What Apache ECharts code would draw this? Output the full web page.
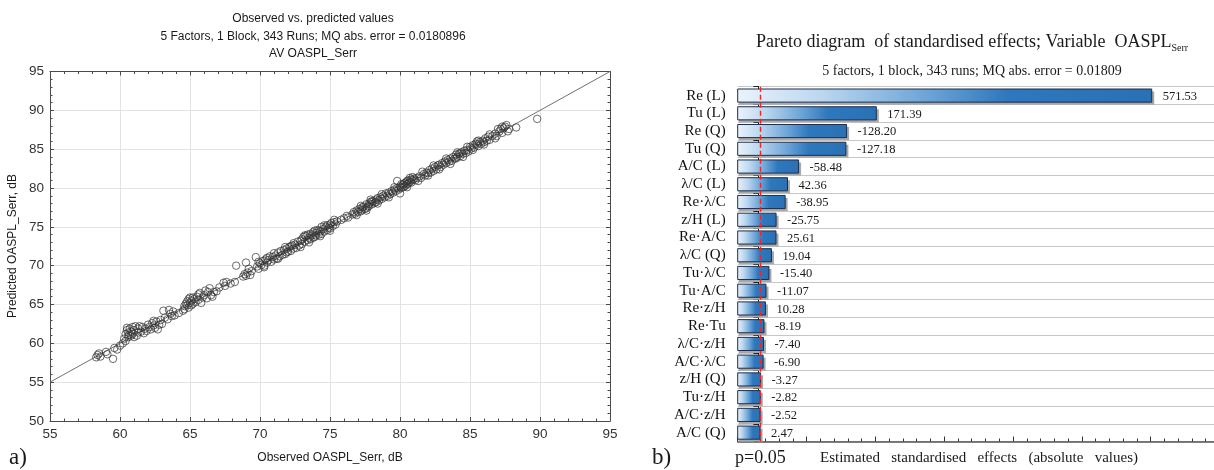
<!DOCTYPE html>
<html><head><meta charset="utf-8">
<script src="https://cdn.jsdelivr.net/npm/echarts@6/dist/echarts.min.js"></script>
<style>html,body{margin:0;padding:0;background:#fff}#c{width:1214px;height:470px}</style>
</head><body><div id="c"></div>
<script>
// ---------- Panel a) observed vs predicted ----------
const scatterPoints = [
[58.3,58.2],[58.4,58.5],[58.5,58.7],[58.6,58.3],[59.0,58.9],[59.1,58.6],[59.5,58.0],[59.6,59.4],[59.8,59.2],[60.0,59.7],
[60.2,60.0],[60.3,60.6],[60.4,60.3],[60.4,61.2],[60.5,61.7],[60.5,62.0],[60.6,61.4],[60.6,60.8],[60.7,61.9],[60.8,61.5],[60.8,61.0],[60.9,62.1],[60.9,61.2],[61.0,61.7],[61.1,62.2],[61.2,61.0],[61.3,61.9],[61.3,61.4],[61.4,62.2],[61.5,61.5],[61.6,62.1],
[61.8,61.9],[61.9,61.6],[62.0,62.4],[62.1,62.1],[62.2,61.8],[62.3,62.6],[62.4,62.3],[62.5,62.0],[62.6,62.8],[62.7,61.8],[62.8,62.4],[62.9,63.0],[63.0,62.5],
[63.1,64.2],[63.2,63.3],[63.4,63.1],[63.5,64.3],[63.6,63.8],[63.7,63.5],[63.8,64.1],[64.2,63.9],
[64.6,64.8],[64.6,64.4],[64.7,65.1],[64.8,65.4],[64.8,64.9],[64.9,65.7],[64.9,64.6],[65.0,65.2],[65.0,65.9],[65.1,64.9],[65.1,65.5],[65.2,65.1],[65.3,65.7],[65.4,65.3],[65.5,66.0],[65.6,65.6],[65.8,65.2],[65.9,65.9],[65.7,66.5],
[66.0,66.2],[66.2,65.8],[66.3,66.6],[66.4,67.1],[66.5,66.2],[66.7,66.6],[66.9,66.7],[67.1,67.2],
[67.4,67.8],[67.5,67.4],[67.6,67.9],[67.9,67.7],[68.2,67.9],[68.3,70.0],
[68.8,68.6],[68.9,68.9],[69.0,70.4],[69.0,68.7],[69.1,69.1],[69.3,68.8],[69.4,69.3],
[69.7,71.1],[69.8,69.9],[69.9,69.6],[70.0,70.3],[70.1,70.1],[70.2,70.6],[70.3,70.0],[70.4,70.8],[70.5,70.4],[70.5,71.0],[70.6,70.7],[70.7,71.2],[70.8,70.5],[70.9,71.1],[71.0,70.8],
[71.1,71.3],[71.2,70.9],[71.3,71.7],[71.4,71.2],[71.5,71.9],[71.6,71.4],[71.7,72.0],[71.8,71.5],[71.9,72.2],[72.0,71.8],[72.1,72.4],[72.2,71.9],[72.3,72.6],[72.4,72.2],[72.5,72.7],[72.6,72.3],[72.7,73.1],[72.8,72.6],[72.9,73.2],[73.0,72.8],[72.2,72.5],[71.9,71.7],
[73.0,73.4],[73.1,73.7],[73.2,73.1],[73.3,73.8],[73.4,73.3],[73.4,74.0],[73.5,73.6],[73.6,74.1],[73.6,73.4],[73.7,73.9],[73.8,74.3],[73.9,73.7],[74.0,74.2],[74.0,73.9],[74.1,74.6],[74.2,74.0],[74.3,74.4],[74.4,75.0],[74.4,74.1],[74.5,74.7],[74.6,74.4],[74.7,75.0],[74.8,74.6],[74.8,75.2],[74.9,74.9],[75.0,75.3],[75.0,74.8],[75.1,75.5],[75.2,75.1],[75.3,75.6],[75.4,75.3],[75.5,75.7],[73.8,73.6],[74.2,74.5],
[75.8,75.9],[76.0,76.1],[76.2,76.4],[76.3,76.2],
[76.6,76.6],[76.7,76.9],[76.8,76.7],[76.9,77.1],[77.0,76.9],[77.1,77.3],[77.2,77.0],[77.3,77.5],[77.3,77.2],[77.4,77.6],[77.5,77.3],[77.6,77.9],[77.7,77.6],[77.8,78.0],[77.8,77.7],[77.9,78.2],[78.0,77.9],[78.1,78.3],[78.2,78.1],[78.3,78.5],[78.3,78.2],[78.4,78.7],[78.5,78.4],[78.6,78.8],[78.7,78.6],[78.8,79.0],[78.9,78.8],[79.0,79.3],[77.6,77.4],[78.0,78.3],
[79.1,79.0],[79.2,79.4],[79.3,79.2],[79.4,79.6],[79.5,79.4],[79.6,79.8],[79.7,79.6],[79.8,80.9],[79.8,80.0],[79.9,79.8],[80.0,79.3],[80.0,80.2],[80.1,80.0],[80.2,80.4],[80.3,80.2],[80.3,80.6],[80.4,80.3],[80.4,80.7],[80.5,80.5],[80.5,80.9],[80.6,80.6],[80.6,81.0],[80.7,80.8],[80.8,81.1],[80.8,80.7],[80.9,81.0],[81.0,81.2],[80.2,80.1],[80.7,81.3],
[81.1,81.0],[81.2,81.3],[81.4,81.5],[81.5,81.3],[81.7,81.8],[81.8,81.6],[81.9,82.0],[82.0,81.9],[82.1,82.3],[82.2,82.0],[82.3,82.5],[82.4,82.2],[82.5,82.7],[82.6,82.4],[82.7,82.9],[82.8,83.0],[82.9,82.7],
[83.0,83.2],[83.1,83.0],[83.2,83.4],[83.3,83.2],[83.4,83.6],[83.5,83.4],[83.6,83.8],[83.7,83.5],[83.8,84.0],[83.9,83.8],[84.0,84.3],[84.1,84.0],[84.2,84.4],[84.3,84.1],[84.4,84.6],[84.5,84.4],[84.6,84.8],[84.7,84.5],[84.8,84.9],[84.9,84.7],[84.3,84.5],[84.0,83.8],
[85.0,85.3],[85.1,85.1],[85.2,85.5],[85.3,85.2],[85.4,85.7],[85.5,85.6],[85.6,85.4],[85.7,85.9],[85.8,85.7],[85.9,86.1],[86.0,85.9],[86.1,86.4],[86.2,86.1],[86.3,86.6],[86.4,86.2],[85.5,86.0],
[86.6,86.7],[86.8,87.0],[86.9,86.7],[87.1,87.3],[87.2,87.6],[87.3,87.1],[87.4,87.7],[87.5,87.9],[87.6,88.1],[87.8,87.6],
[88.3,87.8],[89.8,88.9],
[60.6,61.0],[61.0,60.8],[61.7,61.3],[62.4,62.9],[63.9,63.6],[64.5,64.2],[65.2,65.9],[65.6,66.3],[66.1,66.8],[66.6,66.0],
[69.2,69.6],[69.9,70.5],[70.3,69.8],[71.0,71.6],[71.3,70.9],[71.8,72.4],[72.4,72.9],[72.9,72.4],[73.2,73.9],[73.5,73.0],
[73.9,74.5],[74.3,73.8],[74.6,75.2],[75.0,74.5],[75.3,75.9],[76.9,76.5],[77.2,77.7],[77.6,77.1],[77.9,78.5],[78.4,78.0],
[78.7,79.2],[79.2,78.8],[79.6,80.1],[80.1,80.5],[80.5,80.1],[80.9,81.4],[81.3,80.9],[81.6,82.1],[82.0,81.6],[82.4,82.9],
[82.8,82.4],[83.3,83.8],[83.6,83.1],[84.1,84.6],[84.5,84.0],[84.8,85.3],[85.2,84.9],[85.6,86.1],[86.0,85.6],[86.4,86.9],
[86.8,86.4],[87.0,87.6],[87.3,87.9],[87.7,87.3]
];
const fitLine = [[55,55],[95,95]];
const leftTitles = ['Observed vs. predicted values','5 Factors, 1 Block, 343 Runs; MQ abs. error = 0.0180896','AV OASPL_Serr'];

// ---------- Panel b) Pareto ----------
const effectLabels = ['Re (L)','Tu (L)','Re (Q)','Tu (Q)','A/C (L)','λ/C (L)','Re·λ/C','z/H (L)','Re·A/C','λ/C (Q)','Tu·λ/C','Tu·A/C','Re·z/H','Re·Tu','λ/C·z/H','A/C·λ/C','z/H (Q)','Tu·z/H','A/C·z/H','A/C (Q)'];
const effectValues = [571.53,171.39,-128.20,-127.18,-58.48,42.36,-38.95,-25.75,25.61,19.04,-15.40,-11.07,10.28,-8.19,-7.40,-6.90,-3.27,-2.82,-2.52,2.47];
const criticalT = 1.97;
const effectMin = -30, effectMax = 662;
const effectMajorTicks = [-30,70,170,270,370,470,570];
const effectMinorTicks = [-10,10,30,50,90,110,130,150,190,210,230,250,290,310,330,350,390,410,430,450,490,510,530,550,590,610,630,650];

const SANS = '"Liberation Sans", Arial, sans-serif';
const SERIF = '"Liberation Serif", "Times New Roman", serif';

const chart = echarts.init(document.getElementById('c'), null, {renderer:'canvas'});

function txt(x, y, text, size, family, align, extra) {
  return Object.assign({
    type:'text', x:x, y:y, silent:true,
    style:{text:text, fontSize:size, fontFamily:family, fill:'#1a1a1a',
      align:align, textAlign:align, verticalAlign:'middle', textVerticalAlign:'middle'}
  }, extra || {});
}

const frameColor = '#4a4a4a';
const leftX = (pos, labels) => ({
  gridIndex:0, type:'value', min:55, max:95, interval:5, position:pos,
  axisLine:{show:true, onZero:false, lineStyle:{color:frameColor, width:1}},
  axisTick:{show:true, inside:true, length:4, lineStyle:{color:frameColor}},
  minorTick:{show:true, splitNumber:5, length:2.5, lineStyle:{color:frameColor}},
  axisLabel:{show:labels, fontFamily:SANS, fontSize:13.5, color:'#333', margin:6},
  splitLine:{show:labels, lineStyle:{color:'#e3e3e3'}}
});
const leftY = (pos, labels) => ({
  gridIndex:0, type:'value', min:50, max:95, interval:5, position:pos,
  axisLine:{show:true, onZero:false, lineStyle:{color:frameColor, width:1}},
  axisTick:{show:true, inside:true, length:4, lineStyle:{color:frameColor}},
  minorTick:{show:true, splitNumber:5, length:2.5, lineStyle:{color:frameColor}},
  axisLabel:{show:labels, fontFamily:SANS, fontSize:13.5, color:'#333', margin:6},
  splitLine:{show:labels, lineStyle:{color:'#e3e3e3'}}
});

const barStops = [
  {offset:0, color:'#eaf3fb'},
  {offset:0.2, color:'#bdd7ef'},
  {offset:0.45, color:'#6fa6d8'},
  {offset:0.65, color:'#2f78bd'},
  {offset:1, color:'#2a70b4'}
];

const paretoGrid = {left:737.7, top:86.7, width:476.3, height:354.8, containLabel:false};

const option = {
  animation:false,
  backgroundColor:'#ffffff',
  grid:[
    {left:50, top:71.5, width:560, height:349.5, containLabel:false},
    paretoGrid,
    Object.assign({}, paretoGrid)
  ],
  xAxis:[
    leftX('bottom', true),
    leftX('top', false),
    {gridIndex:1, type:'value', min:effectMin, max:effectMax, position:'bottom',
      axisLine:{show:true, onZero:false, lineStyle:{color:'#555', width:1.6}},
      axisTick:{show:true, inside:true, length:5, customValues:effectMajorTicks, lineStyle:{color:'#333'}},
      axisLabel:{show:false}, splitLine:{show:false}},
    {gridIndex:2, type:'value', min:effectMin, max:effectMax, position:'bottom',
      axisLine:{show:false},
      axisTick:{show:true, inside:true, length:3, customValues:effectMinorTicks, lineStyle:{color:'#333'}},
      axisLabel:{show:false}, splitLine:{show:false}}
  ],
  yAxis:[
    leftY('left', true),
    leftY('right', false),
    {gridIndex:1, type:'category', data:effectLabels, inverse:true, position:'left',
      axisLine:{show:true, lineStyle:{color:'#222', width:1}},
      axisTick:{show:true, length:5, interval:0, lineStyle:{color:'#222'}},
      axisLabel:{interval:0, fontFamily:SERIF, fontSize:15, color:'#111', margin:12},
      splitLine:{show:true, interval:0, lineStyle:{color:'#c6c6c6', width:1.2}}},
    {gridIndex:2, type:'category', data:effectLabels, inverse:true, position:'left',
      axisLine:{show:false},
      axisTick:{show:true, alignWithLabel:true, interval:0, length:3, lineStyle:{color:'#222'}},
      axisLabel:{show:false}, splitLine:{show:false}}
  ],
  series:[
    {type:'line', xAxisIndex:0, yAxisIndex:0, data:fitLine, showSymbol:false, symbol:'none',
      lineStyle:{color:'#707070', width:1}, silent:true, z:2},
    {type:'scatter', xAxisIndex:0, yAxisIndex:0, data:scatterPoints, symbol:'circle', symbolSize:7.5,
      itemStyle:{color:'rgba(0,0,0,0)', borderColor:'#333', borderWidth:0.9}, silent:true, z:3},
    {type:'custom', xAxisIndex:2, yAxisIndex:2, silent:true, z:3,
      data:effectValues.map((v,i)=>[Math.abs(v), i, v]),
      encode:{x:0, y:1},
      renderItem:function(params, api){
        const v = api.value(0), i = api.value(1), signed = api.value(2);
        const cs = params.coordSys;
        const end = api.coord([v, i]);
        const band = api.size([0, 1])[1];
        const h = band * 0.74;
        const x0 = cs.x;
        const y = end[1] - h/2;
        const w = end[0] - x0;
        return {type:'group', children:[
          {type:'rect', shape:{x:x0+1, y:y+2.5, width:w+1.5, height:h}, style:{fill:'#a8a8a8'}},
          {type:'rect', shape:{x:x0, y:y, width:w, height:h},
            style:{fill:{type:'linear', x:0, y:0, x2:1, y2:0, colorStops:barStops}, stroke:'#1c2e4c', lineWidth:1}},
          {type:'text', style:{text:signed.toFixed(2), x:end[0]+11, y:end[1]+1, fontSize:12.5, fontFamily:SERIF,
            fill:'#1a1a1a', align:'left', verticalAlign:'middle'}}
        ]};
      }},
    {type:'custom', xAxisIndex:2, yAxisIndex:2, silent:true, z:10,
      data:[[criticalT, 0]], encode:{x:0, y:1},
      renderItem:function(params, api){
        const cs = params.coordSys;
        const x = Math.round(api.coord([api.value(0), 0])[0]) + 0.5;
        return {type:'line', z2:100, shape:{x1:x, y1:cs.y, x2:x, y2:cs.y+cs.height},
          style:{stroke:'#ff1f1f', lineWidth:1.4, lineDash:[5,3]}};
      }}
  ],
  graphic:[
    txt(313, 19, leftTitles[0], 12, SANS, 'center'),
    txt(313, 37, leftTitles[1], 12, SANS, 'center'),
    txt(313, 54, leftTitles[2], 12, SANS, 'center'),
    txt(13, 246, 'Predicted OASPL_Serr, dB', 12, SANS, 'center', {rotation:Math.PI/2}),
    txt(330, 458, 'Observed OASPL_Serr, dB', 12, SANS, 'center'),
    txt(9, 458, 'a)', 23, SERIF, 'left'),
    {type:'text', x:972, y:42, silent:true,
      style:{text:'{t|Pareto diagram  of standardised effects; Variable  OASPL}{s|Serr}',
        align:'center', textAlign:'center', verticalAlign:'middle', textVerticalAlign:'middle',
        rich:{t:{fontSize:18, fontFamily:SERIF, fill:'#1a1a1a', color:'#1a1a1a', lineHeight:22},
              s:{fontSize:10, fontFamily:SERIF, fill:'#1a1a1a', color:'#1a1a1a', lineHeight:10, verticalAlign:'bottom'}}}},
    txt(972, 71, '5 factors, 1 block, 343 runs; MQ abs. error = 0.01809', 14, SERIF, 'center'),
    txt(652, 458, 'b)', 23, SERIF, 'left'),
    txt(735, 458, 'p=0.05', 18, SERIF, 'left'),
    txt(820, 458, 'Estimated   standardised   effects   (absolute   values)', 15, SERIF, 'left')
  ]
};
chart.setOption(option);
</script>
</body></html>
